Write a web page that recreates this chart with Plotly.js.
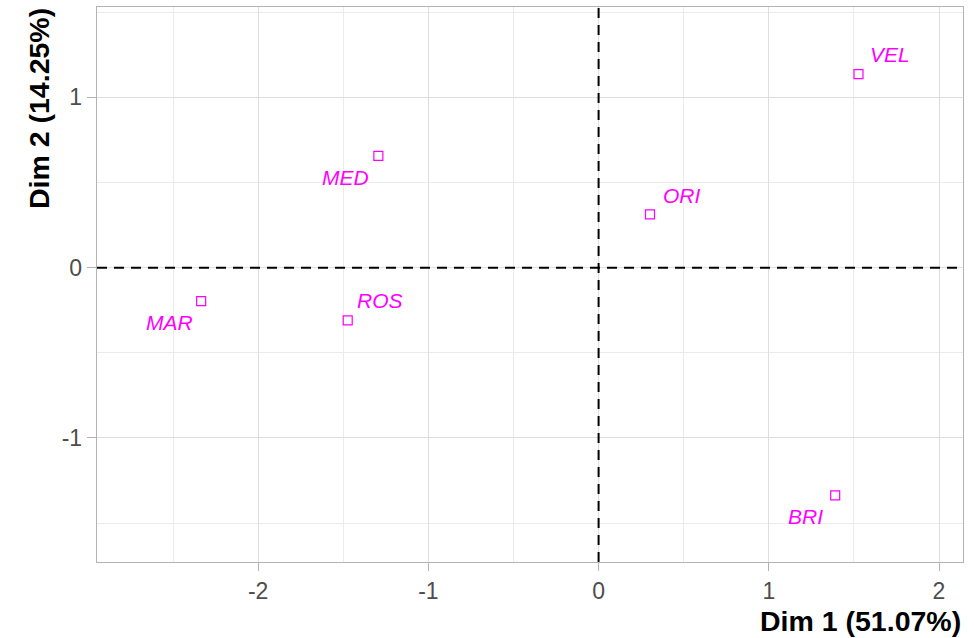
<!DOCTYPE html>
<html>
<head>
<meta charset="utf-8">
<script src="https://cdn.plot.ly/plotly-3.0.1.min.js"></script>
<style>html,body{margin:0;padding:0;background:#fff;}#chart{width:974px;height:638px;}</style>
</head>
<body>
<div id="chart"></div>
<script>
// Data
const labels = ["VEL", "MED", "ORI", "MAR", "ROS", "BRI"];
const dim1 = [1.527, -1.294, 0.302, -2.335, -1.474, 1.390];
const dim2 = [1.137, 0.657, 0.313, -0.197, -0.310, -1.338];
const xTitle = "Dim 1 (51.07%)";
const yTitle = "Dim 2 (14.25%)";
const xTicks = [-2, -1, 0, 1, 2];
const yTicks = [-1, 0, 1];

// Label offsets (style: pixel shifts, as placed by repel)
const labelShiftX = [32, -33, 32, -32, 32, -30];
const labelShiftY = [20, -22, 19, -21, 20, -21];

const magenta = "#FF00FF";
const font = "Liberation Sans, Arial, sans-serif";

const trace = {
  type: "scatter",
  mode: "markers",
  x: dim1,
  y: dim2,
  marker: {symbol: "square-open", size: 9, color: magenta, line: {width: 1.2, color: magenta}},
  hoverinfo: "text",
  text: labels,
  showlegend: false
};

const annotations = labels.map((l, i) => ({
  x: dim1[i], y: dim2[i], xref: "x", yref: "y",
  text: l, showarrow: false,
  xshift: labelShiftX[i], yshift: labelShiftY[i],
  font: {family: font, size: 21, color: magenta, style: "italic"}
}));

annotations.push({
  xref: "paper", yref: "paper", x: 1, y: 0, xanchor: "right", yanchor: "middle",
  yshift: -59, showarrow: false, text: "<b>" + xTitle + "</b>",
  font: {family: font, size: 28.5, color: "#000"}
});
annotations.push({
  xref: "paper", yref: "paper", x: 0, y: 1, xanchor: "center", yanchor: "top",
  xshift: -58.5, yshift: 1, showarrow: false, textangle: -90, text: "<b>" + yTitle + "</b>",
  font: {family: font, size: 28.5, color: "#000"}
});

const gridMajor = "#dedede";
const gridMinor = "#ebebeb";

const layout = {
  width: 974, height: 638,
  margin: {l: 97, r: 11, t: 7, b: 76, pad: 0},
  paper_bgcolor: "#fff", plot_bgcolor: "#fff",
  font: {family: font},
  xaxis: {
    range: [-2.947, 2.141], tickvals: xTicks, ticktext: xTicks.map(String),
    showgrid: true, gridcolor: gridMajor, gridwidth: 1,
    minor: {dtick: 0.5, tick0: 0, showgrid: true, gridcolor: gridMinor, gridwidth: 1},
    zeroline: false, showline: true, mirror: true, linecolor: "#b3b3b3", linewidth: 1.3,
    ticks: "outside", ticklen: 8, tickcolor: "#b3b3b3", tickwidth: 1,
    tickfont: {family: font, size: 23, color: "#4d4d4d"}
  },
  yaxis: {
    range: [-1.729, 1.531], tickvals: yTicks, ticktext: yTicks.map(String),
    showgrid: true, gridcolor: gridMajor, gridwidth: 1,
    minor: {dtick: 0.5, tick0: 0, showgrid: true, gridcolor: gridMinor, gridwidth: 1},
    zeroline: false, showline: true, mirror: true, linecolor: "#b3b3b3", linewidth: 1.3,
    ticks: "outside", ticklen: 9, tickcolor: "#b3b3b3", tickwidth: 1,
    tickfont: {family: font, size: 23, color: "#4d4d4d"}
  },
  shapes: [
    {type: "line", xref: "paper", yref: "y", x0: 0, x1: 1, y0: 0, y1: 0,
     line: {color: "#000", width: 2, dash: "10px,7px"}},
    {type: "line", xref: "x", yref: "paper", x0: 0, x1: 0, y0: 0, y1: 1,
     line: {color: "#000", width: 2, dash: "10px,7px"}}
  ],
  annotations: annotations
};

Plotly.newPlot("chart", [trace], layout, {displayModeBar: false, staticPlot: true});
</script>
</body>
</html>
